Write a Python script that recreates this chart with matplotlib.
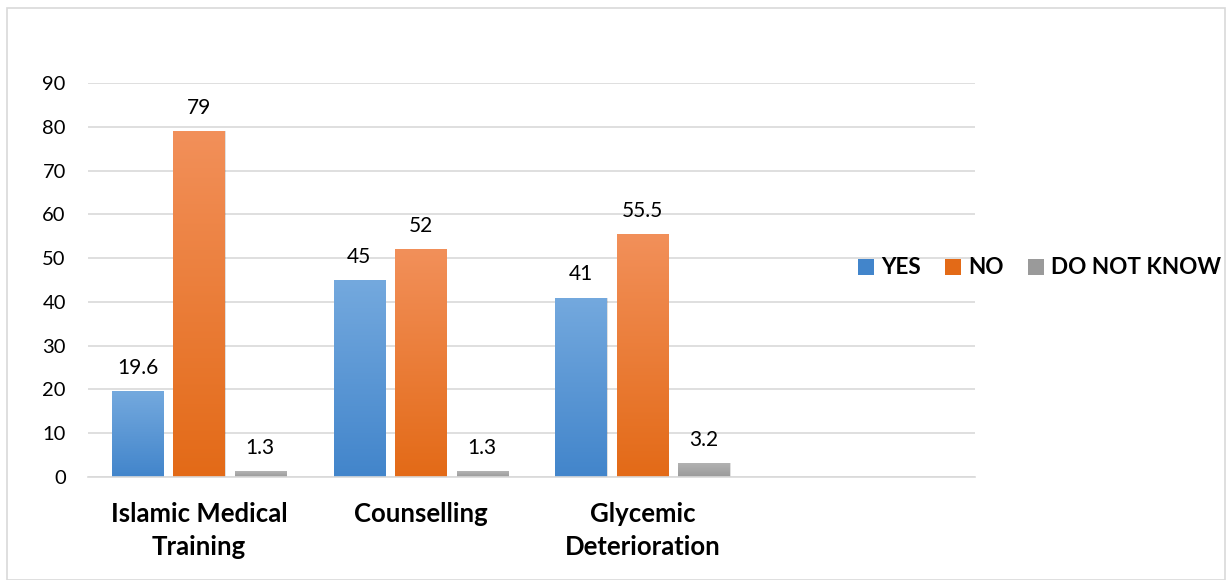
import numpy as np
import matplotlib
matplotlib.use("Agg")
import matplotlib.pyplot as plt
from matplotlib.colors import LinearSegmentedColormap
from matplotlib.patches import Rectangle

categories = ["Islamic Medical\nTraining", "Counselling", "Glycemic\nDeterioration", ""]
series_names = ["YES", "NO", "DO NOT KNOW"]
yes_vals = [19.6, 45, 41]
no_vals = [79, 52, 55.5]
dnk_vals = [1.3, 1.3, 3.2]
value_labels = [["19.6", "45", "41"], ["79", "52", "55.5"], ["1.3", "1.3", "3.2"]]
y_ticks = [0, 10, 20, 30, 40, 50, 60, 70, 80, 90]

plt.rcParams['font.family'] = ['Lato', 'DejaVu Sans']

fig = plt.figure(figsize=(12.26, 5.80), dpi=100)
# outer frame
fig.patches.append(Rectangle((7/1226, 0), 1 - 7/1226 - 0.0005, 1 - 8/580, transform=fig.transFigure,
                             fill=False, edgecolor='#d9d9d9', linewidth=1.2))
ax = fig.add_axes([88/1226, 1 - 477/580, (975-88)/1226, (477-83)/580])

grads = [("#74a9de", "#4285cb"), ("#f2905a", "#e36a17"), ("#b4b4b4", "#9a9a9a")]
all_vals = [yes_vals, no_vals, dnk_vals]
offsets = [-0.277, 0.0, 0.277]
width = 0.23
x = np.arange(len(categories))

legend_handles = []
for si, (vals, (ctop, cbot), off) in enumerate(zip(all_vals, grads, offsets)):
    cmap = LinearSegmentedColormap.from_list("g%d" % si, [cbot, ctop])
    bars = ax.bar(x[:len(vals)] + off, vals, width, color=cbot, zorder=2, label=series_names[si])
    legend_handles.append(Rectangle((0, 0), 1, 1, facecolor=cbot))
    for b, v, lab in zip(bars, vals, value_labels[si]):
        bx, by = b.get_x(), b.get_y()
        bw, bh = b.get_width(), b.get_height()
        # shadow
        ax.add_patch(Rectangle((bx + 0.006, by), bw, bh, facecolor='#000000', alpha=0.12,
                               zorder=1.5, linewidth=0))
        grad = np.linspace(0, 1, 256).reshape(-1, 1)
        im = ax.imshow(grad, extent=[bx, bx + bw, by, by + bh], origin='lower', cmap=cmap,
                       aspect='auto', zorder=2.5)
        im.set_clip_path(b)
        ax.text(b.get_x() + bw / 2, v + 3.0, lab, ha='center', va='bottom', fontsize=15, color='#000000')

ax.set_xlim(-0.5, len(categories) - 0.5)
ax.set_ylim(0, 90)
ax.set_yticks(y_ticks)
ax.set_xticks(x)
ax.set_xticklabels(categories, fontsize=18.5, fontweight='bold', linespacing=1.45)
ax.tick_params(axis='y', labelsize=14.5, length=0, pad=16)
ax.tick_params(axis='x', length=0, pad=18)
ax.grid(axis='y', color='#d9d9d9', linewidth=1.2, zorder=0)
ax.set_axisbelow(True)
for s in ['top', 'right', 'left']:
    ax.spines[s].set_visible(False)
ax.spines['bottom'].set_color('#d9d9d9')
ax.spines['bottom'].set_linewidth(1.2)

leg = fig.legend(legend_handles, series_names, loc='center left', bbox_to_anchor=(858/1226, 1 - 268/580),
                 ncol=3, frameon=False, prop={'weight': 'bold', 'size': 16.2}, borderpad=0,
                 borderaxespad=0, handlelength=0.72, handleheight=0.72, handletextpad=0.33,
                 columnspacing=1.05)
for h, (ctop, cbot) in zip(leg.legend_handles, grads):
    h.set_facecolor(cbot)

fig.savefig("out.png", dpi=100)
